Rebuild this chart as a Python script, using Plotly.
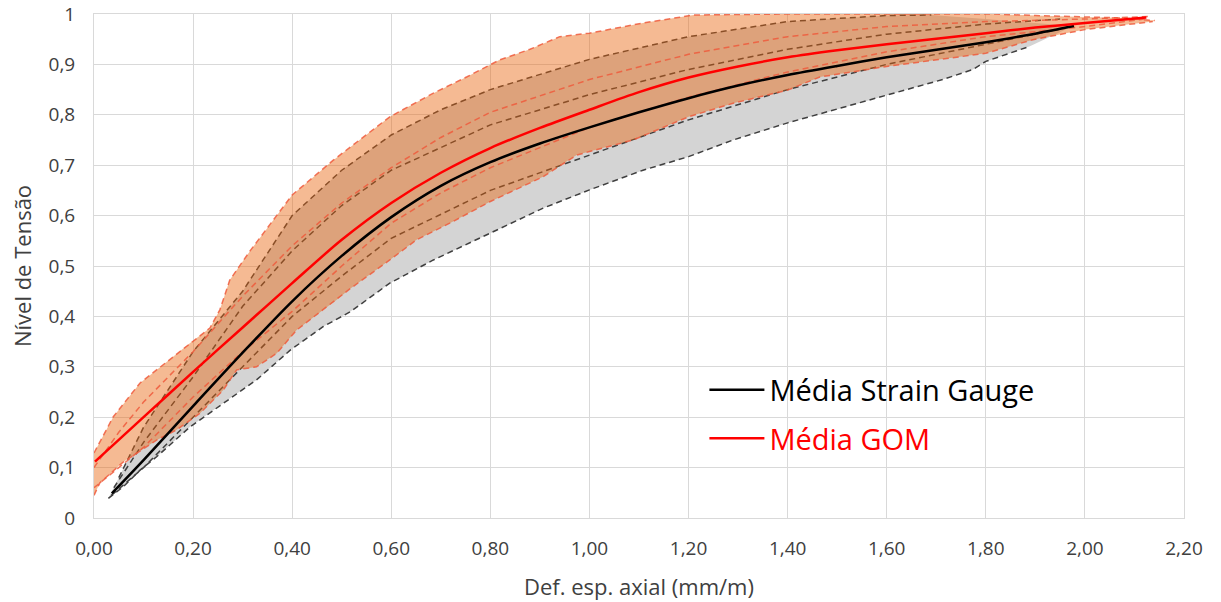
import plotly.graph_objects as go

# ---------------- data ----------------
# Mean curves
sg_mean_x = [0.036, 0.1, 0.2, 0.3, 0.4, 0.5, 0.6, 0.7, 0.8, 0.9, 1.0, 1.1, 1.2, 1.3, 1.4, 1.5, 1.6, 1.7, 1.8, 1.9, 1.978]
sg_mean_y = [0.049, 0.115, 0.222, 0.328, 0.43, 0.52, 0.597, 0.659, 0.706, 0.743, 0.775, 0.805, 0.833, 0.858, 0.879, 0.897, 0.914, 0.929, 0.944, 0.961, 0.976]

gom_mean_x = [0.002, 0.1, 0.2, 0.3, 0.4, 0.5, 0.6, 0.7, 0.8, 0.9, 1.0, 1.1, 1.2, 1.3, 1.4, 1.5, 1.6, 1.7, 1.8, 1.9, 2.0, 2.124]
gom_mean_y = [0.112, 0.2, 0.29, 0.378, 0.466, 0.552, 0.625, 0.685, 0.734, 0.774, 0.81, 0.845, 0.874, 0.896, 0.914, 0.928, 0.94, 0.951, 0.962, 0.973, 0.982, 0.993]

# Strain gauge envelope
sg_low_x = [0.029, 0.059, 0.093, 0.127, 0.194, 0.261, 0.328, 0.396, 0.463, 0.517, 0.597, 0.685, 0.8, 0.907, 1.0, 1.108, 1.2, 1.29, 1.4, 1.512, 1.6, 1.713, 1.774, 1.8, 1.889, 1.976]
sg_low_y = [0.039, 0.062, 0.095, 0.122, 0.181, 0.228, 0.274, 0.333, 0.38, 0.409, 0.466, 0.512, 0.565, 0.615, 0.651, 0.69, 0.717, 0.75, 0.784, 0.814, 0.839, 0.87, 0.89, 0.906, 0.936, 0.976]
sg_high_x = [0.05, 0.1, 0.2, 0.3, 0.4, 0.5, 0.6, 0.7, 0.8, 1.0, 1.2, 1.4, 1.6, 1.69, 1.8, 1.976]
sg_high_y = [0.08, 0.18, 0.33, 0.45, 0.6, 0.69, 0.76, 0.81, 0.85, 0.91, 0.955, 0.985, 0.997, 0.998, 0.99, 0.976]

# Other strain gauge curves
sg_b_x = [0.035, 0.1, 0.2, 0.3, 0.4, 0.5, 0.6, 0.8, 1.0, 1.2, 1.4, 1.6, 1.8, 1.95]
sg_b_y = [0.045, 0.1, 0.2, 0.3, 0.4, 0.48, 0.555, 0.65, 0.72, 0.79, 0.85, 0.9, 0.94, 0.97]
sg_c_x = [0.04, 0.1, 0.2, 0.3, 0.4, 0.5, 0.6, 0.8, 1.0, 1.2, 1.4, 1.6, 1.8, 1.95]
sg_c_y = [0.06, 0.15, 0.28, 0.42, 0.53, 0.62, 0.69, 0.78, 0.84, 0.89, 0.93, 0.96, 0.98, 0.99]

# GOM envelope
gom_up_x = [0.0, 0.039, 0.093, 0.127, 0.194, 0.234, 0.254, 0.274, 0.315, 0.382, 0.4, 0.483, 0.597, 0.685, 0.752, 0.819, 0.88, 0.94, 1.0, 1.108, 1.21, 1.4, 1.6, 1.81, 1.9, 2.0, 2.08, 2.141]
gom_up_y = [0.129, 0.201, 0.268, 0.294, 0.347, 0.377, 0.413, 0.472, 0.53, 0.617, 0.641, 0.71, 0.796, 0.843, 0.875, 0.909, 0.93, 0.955, 0.962, 0.982, 0.998, 1.0, 1.0, 1.0, 0.997, 0.994, 0.992, 0.987]
gom_low_x = [0.0, 0.012, 0.059, 0.086, 0.127, 0.167, 0.214, 0.261, 0.288, 0.328, 0.369, 0.409, 0.449, 0.49, 0.517, 0.597, 0.651, 0.718, 0.8, 0.906, 0.974, 1.0, 1.088, 1.2, 1.29, 1.4, 1.465, 1.6, 1.8, 1.895, 2.0, 2.137]
gom_low_y = [0.045, 0.07, 0.111, 0.129, 0.155, 0.175, 0.208, 0.254, 0.294, 0.3, 0.327, 0.373, 0.403, 0.433, 0.455, 0.512, 0.552, 0.585, 0.628, 0.677, 0.72, 0.727, 0.75, 0.796, 0.823, 0.849, 0.875, 0.896, 0.922, 0.949, 0.969, 0.985]

# Other GOM curves
gom_b_x = [0.0, 0.05, 0.1, 0.2, 0.3, 0.4, 0.5, 0.6, 0.7, 0.8, 1.0, 1.2, 1.4, 1.6, 1.8, 2.0, 2.12]
gom_b_y = [0.06, 0.1, 0.14, 0.24, 0.33, 0.41, 0.5, 0.585, 0.645, 0.695, 0.775, 0.835, 0.885, 0.925, 0.955, 0.975, 0.99]
gom_c_x = [0.0, 0.05, 0.1, 0.2, 0.3, 0.4, 0.5, 0.6, 0.7, 0.8, 1.0, 1.2, 1.4, 1.6, 1.8, 2.0, 2.13]
gom_c_y = [0.1, 0.17, 0.23, 0.33, 0.44, 0.54, 0.625, 0.695, 0.755, 0.805, 0.87, 0.92, 0.955, 0.975, 0.985, 0.99, 0.995]

x_ticks = [0.0, 0.2, 0.4, 0.6, 0.8, 1.0, 1.2, 1.4, 1.6, 1.8, 2.0, 2.2]
y_ticks = [0, 0.1, 0.2, 0.3, 0.4, 0.5, 0.6, 0.7, 0.8, 0.9, 1.0]

# ---------------- styles ----------------
SG_DASH = "#3f3f3f"
GOM_DASH = "rgba(238,90,60,0.85)"
GRAY_FILL = "#d4d4d4"
ORANGE_FILL = "rgba(232,98,8,0.44)"
DASH = "6px,4px"
TXT = "#404040"

fig = go.Figure()

# gray envelope (strain gauge)
fig.add_trace(go.Scatter(
    x=sg_low_x + sg_high_x[::-1], y=sg_low_y + sg_high_y[::-1],
    fill="toself", fillcolor=GRAY_FILL, mode="none", showlegend=False, hoverinfo="skip"))

# strain gauge individual curves
for xs, ys in [(sg_low_x[:-1], sg_low_y[:-1]), (sg_b_x, sg_b_y), (sg_c_x, sg_c_y), (sg_high_x[:-2], sg_high_y[:-2])]:
    fig.add_trace(go.Scatter(x=xs, y=ys, mode="lines",
                             line=dict(color=SG_DASH, width=1.5, dash=DASH),
                             showlegend=False, hoverinfo="skip"))

# orange envelope (GOM)
fig.add_trace(go.Scatter(
    x=gom_low_x + gom_up_x[::-1], y=gom_low_y + gom_up_y[::-1],
    fill="toself", fillcolor=ORANGE_FILL, mode="none", showlegend=False, hoverinfo="skip"))

# GOM individual curves
for xs, ys in [(gom_low_x, gom_low_y), (gom_b_x, gom_b_y), (gom_c_x, gom_c_y), (gom_up_x, gom_up_y)]:
    fig.add_trace(go.Scatter(x=xs, y=ys, mode="lines",
                             line=dict(color=GOM_DASH, width=1.5, dash=DASH),
                             showlegend=False, hoverinfo="skip"))

# means
fig.add_trace(go.Scatter(x=sg_mean_x, y=sg_mean_y, mode="lines",
                         line=dict(color="black", width=2.5, shape="spline", smoothing=0.8),
                         name="Média Strain Gauge", legendgroup="sg"))
fig.add_trace(go.Scatter(x=gom_mean_x, y=gom_mean_y, mode="lines",
                         line=dict(color="red", width=2.5, shape="spline", smoothing=0.8),
                         name="<span style='color:red'>Média GOM</span>", legendgroup="gom"))

GRID = "#d9d9d9"
fig.update_layout(
    width=1221, height=602,
    margin=dict(l=94, r=37, t=14, b=84),
    paper_bgcolor="white", plot_bgcolor="white",
    separators=",.",
    font=dict(family="Open Sans, sans-serif", color=TXT),
    legend=dict(x=0.56, y=0.305, xanchor="left", yanchor="top",
                bgcolor="rgba(0,0,0,0)", font=dict(size=29, color="black"),
                itemwidth=55, tracegroupgap=8),
    xaxis=dict(range=[0, 2.2], tickvals=x_ticks, tickformat=".2f", automargin=False,
               showgrid=True, gridcolor=GRID, gridwidth=1, zeroline=False,
               showline=True, linecolor=GRID, mirror=True,
               tickfont=dict(size=19, color=TXT), ticklabelstandoff=13,
               title=dict(text="Def. esp. axial (mm/m)", font=dict(size=22, color=TXT), standoff=19)),
    yaxis=dict(range=[0, 1], tickvals=y_ticks, tickformat=".1~f", automargin=False,
               showgrid=True, gridcolor=GRID, gridwidth=1, zeroline=False,
               showline=True, linecolor=GRID, mirror=True,
               tickfont=dict(size=19, color=TXT), ticklabelstandoff=14,
               title=dict(text="Nível de Tensão", font=dict(size=22, color=TXT), standoff=10)),
)

fig.write_html("out.html", config={"displayModeBar": False})
